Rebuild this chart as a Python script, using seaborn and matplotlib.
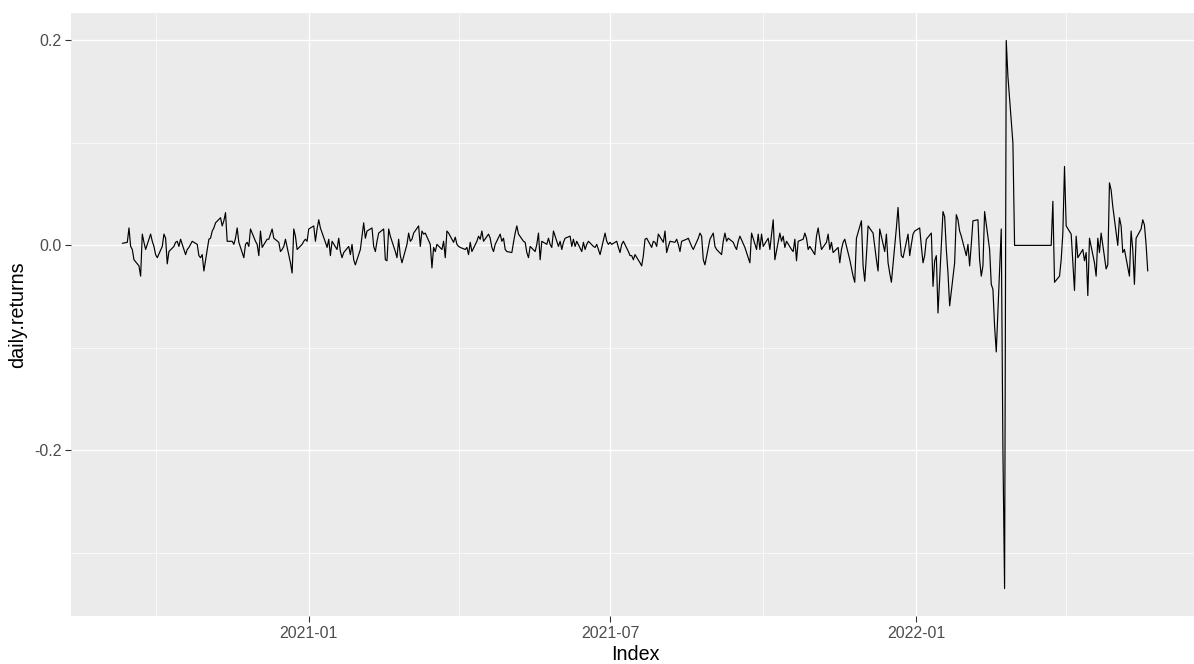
import pandas as pd
import matplotlib
matplotlib.use("Agg")
import matplotlib.pyplot as plt
import matplotlib.dates as mdates
from matplotlib.ticker import MultipleLocator, FuncFormatter
import seaborn as sns

# daily returns in percent, one value per business day
START_DATE = "2020-09-11"

returns_2020 = [
    0.2,
    0.3, 1.7, -0.1, -0.4, -1.4, -2.0, -3.0, 1.1, 0.3, -0.4,
    1.1, 0.4, -0.1, -0.9, -1.2, -0.1, 1.1, 0.7, -1.8, -0.6,
    -0.1, 0.3, 0.4, -0.1, 0.6, -0.9, -0.4, -0.2, 0.1, 0.4,
    0.1, -1.0, -1.2, -0.9, -2.5, 0.6, 0.7, 1.4, 1.7, 2.2,
    2.7, 1.9, 2.4, 3.2, 0.4, 0.4, 0.1, 0.7, 1.7, 0.3,
    -1.2, 0.1, 0.3, -0.1, 1.6, 0.4, 0.1, -1.0, 1.4, -0.2,
    0.6, 0.6, 1.1, 1.6, 0.7, 0.3, -0.6, -0.4, -0.1, 0.6,
    -1.7, -2.7, 1.6, 0.9, -0.4, 0.1, 0.4, 0.6, 0.4,
]

returns_2021_h1 = [
    1.6, 1.9, 0.4, 1.6, 2.5, 1.7, 0.3, -0.2, 0.6, -1.0,
    0.4, -0.4, 0.7, -0.6, -1.2, -0.7, -0.1, -0.9, 0.1, -1.4,
    -1.9, -0.4, 0.9, 2.2, 0.7, 1.4, 1.7, -0.1, -0.6, 0.4,
    1.2, 1.6, -1.4, -1.5, 1.6, 0.9, -0.6, -1.2, 0.6, -1.0,
    -1.7, 0.1, 1.2, 0.4, 0.6, 1.2, 1.9, -0.1, 1.4, 1.1,
    1.2, 0.1, -2.2, -0.2, -0.6, 0.1, -0.4, 0.4, -1.2, 1.4,
    1.2, 0.3, 0.8, 0.1, -0.1,
    -0.2, -0.4, -0.2, -0.9, 0.3, -0.6, 0.4, 0.9, 0.6, 1.4,
    0.4, 1.1, 0.7, -0.2, -0.6, 0.1, 1.1, 0.4, 0.7, -0.4,
    -0.6, -0.7, 0.3, 1.2, 1.9, 1.1, 0.4, 0.3, -0.7, -1.2,
    -0.1, -0.6, 0.1, 1.2, -1.4, 0.4, 0.1, 0.7, 0.1, -0.2,
    1.4, -0.1, 0.4, -0.4, 0.3, 0.7, 0.9, -0.1, 0.6, -0.1,
    0.4, -0.6, 0.3, -0.4, 0.1, 0.4, -0.1, -0.2, 0.1, -0.4,
    -0.9, 1.2, 0.4, 0.1,
]

returns_2021_h2 = [
    0.3, 0.1, 0.4, -0.2, -0.7, 0.1, 0.4, -0.6, -1.0,
    -1.0, -1.4, -0.9, -1.7, -2.0, -1.0, 0.6, 0.7, -0.2, 0.4,
    0.3, -0.1, 1.1, 0.3, 1.4, -0.7, -0.1, 0.4, 0.3, 0.6,
    0.1, -0.6, 0.4, 0.6, 0.7, 0.3, -0.1, -0.4, 0.7, 1.2,
    0.9, -1.4, -1.9, 0.6, 0.9, 1.2, -0.1, -0.4, -0.9, 0.4,
    1.2, 0.4, 0.7, 0.3, -0.1, -0.4, 0.4, 0.9, -0.2, -0.7,
    -1.2, -1.7, 1.2, -0.4, 1.1, -0.4, 1.1, -0.1, 0.7, -0.4,
    1.1, 2.5, -1.4, 1.2, 0.4, 0.9, -0.2, 0.4, -0.4, -0.6,
    0.6, -1.5, 0.4,
    0.6, 1.2, 0.7, -0.4, -0.1, -0.9, 0.9, 1.7, 0.6, -0.4,
    0.3, 1.1, -0.4, 0.3, -0.7, -0.2, -1.7, -0.4, 0.3, 0.6,
    -1.4, -2.2, -3.0, -3.6, 0.7, 2.4, -2.0, -3.5, -1.0, 1.9,
    1.2, -0.1, -1.4, -2.5, 1.6, -0.6, 1.1, -1.7, -2.7, -3.6,
    1.7, 3.7, 0.9, -1.0, -1.2, 1.1, -1.0, 0.1, 1.1, 1.4,
]

returns_2022 = [
    1.7, -0.1, -1.7, -1.0, 0.6, 1.2, -4.0, -1.5, -1.0, -6.6,
    3.3, 2.8, -0.4, -2.7, -5.9, -1.7, 3.0, 2.5, 1.4, 0.9, -1.0,
    0.1, -2.0, 0.1, 2.4, 2.5, -1.4, -3.0, -2.0, 3.3, -0.4,
    -3.8, -4.3, -7.9,
    -10.4, 1.6, -20.0, -33.5, 20.0, 16.5, 10.0,
    0.0, 0.0, 0.0, 0.0, 0.0, 0.0, 0.0, 0.0, 0.0,
    0.0, 0.0, 0.0, 0.0, 0.0, 0.0, 0.0, 0.0,
    4.3, -3.6, -3.0, -1.4, 1.2, 7.7, 1.9, 1.1, -1.7, -4.4,
    0.9, -1.2, -0.4, -1.5, -0.7, -4.9, 0.7, -1.7, -3.0, 0.7,
    -0.7, 1.2, -2.3, -1.9, 6.1, 5.4, 3.8, 0.0, 2.7, 1.9,
    -0.7, -0.4, -3.0, 1.4, -0.4, -3.8, 0.7, 1.6, 2.5, 2.0,
    0.1, -2.5,
]

pct = returns_2020 + returns_2021_h1 + returns_2021_h2 + returns_2022
df = pd.DataFrame({
    "Index": pd.bdate_range(START_DATE, periods=len(pct)),
    "daily.returns": [v / 100 for v in pct],
})

sns.set_theme(style="darkgrid", rc={
    "axes.facecolor": "#EBEBEB",
    "figure.facecolor": "white",
    "grid.color": "white",
    "axes.edgecolor": "#EBEBEB",
})
plt.rcParams["font.family"] = ["Liberation Sans", "DejaVu Sans"]
plt.rcParams["axes.unicode_minus"] = False

fig = plt.figure(figsize=(11.94, 6.64), dpi=100)
# panel runs slightly past the right edge, as in the original export
ax = fig.add_axes([0.0595, 0.0723, 0.9447, 0.908])

sns.lineplot(data=df, x="Index", y="daily.returns", color="black",
             linewidth=0.85, ax=ax)

# ggplot-style 5% expansion
x0, x1 = df["Index"].min(), df["Index"].max()
pad = (x1 - x0) * 0.05
ax.set_xlim(x0 - pad, x1 + pad)
y0, y1 = df["daily.returns"].min(), df["daily.returns"].max()
ypad = (y1 - y0) * 0.05
ax.set_ylim(y0 - ypad, y1 + ypad)

ax.xaxis.set_major_locator(mdates.MonthLocator(bymonth=[1, 7]))
ax.xaxis.set_minor_locator(mdates.MonthLocator(bymonth=[4, 10]))
ax.xaxis.set_major_formatter(mdates.DateFormatter("%Y-%m"))
ax.yaxis.set_major_locator(MultipleLocator(0.2))
ax.yaxis.set_minor_locator(MultipleLocator(0.1))
ax.yaxis.set_major_formatter(FuncFormatter(lambda v, p: f"{v:.1f}"))

ax.grid(which="major", color="white", linewidth=1.0)
ax.grid(which="minor", color="white", linewidth=0.5)
for s in ax.spines.values():
    s.set_visible(False)

ax.tick_params(which="major", length=4, width=0.8, color="#333333",
               labelsize=11.5, labelcolor="#4D4D4D", pad=3, bottom=True, left=True)
ax.tick_params(which="minor", length=0, bottom=False, left=False)

ax.set_xlabel("Index", fontsize=14.2, color="black", labelpad=3)
ax.set_ylabel("daily.returns", fontsize=14.2, color="black", labelpad=5)

fig.savefig("out.png", dpi=100)
